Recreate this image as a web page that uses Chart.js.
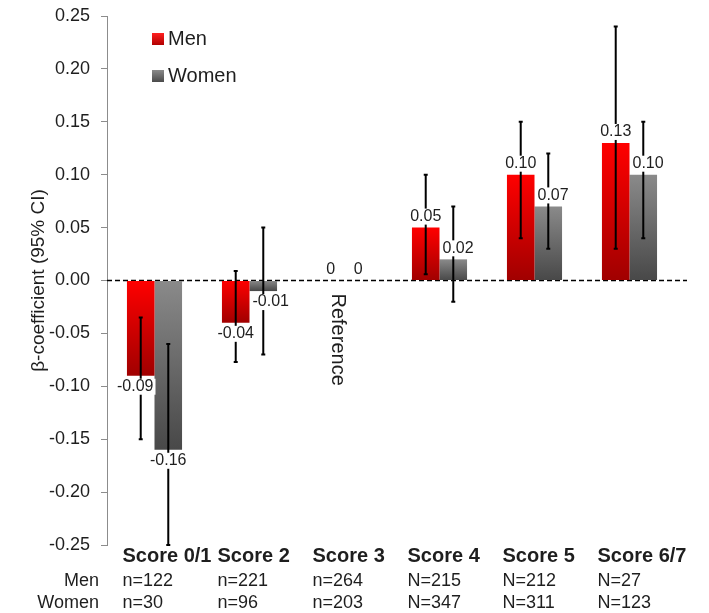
<!DOCTYPE html>
<html>
<head>
<meta charset="utf-8">
<script src="https://cdn.jsdelivr.net/npm/chart.js@4/dist/chart.umd.min.js"></script>
<style>
  html, body { margin: 0; padding: 0; background: #fff; }
  #wrap { width: 709px; height: 613px; }
</style>
</head>
<body>
<div id="wrap"><canvas id="betaChart"></canvas></div>
<script>
// data
const categories = ['Score 0/1', 'Score 2', 'Score 3', 'Score 4', 'Score 5', 'Score 6/7'];
const menBeta   = [-0.09, -0.04, 0, 0.05, 0.10, 0.13];
const womenBeta = [-0.16, -0.01, 0, 0.02, 0.07, 0.10];
const menLow    = [-0.15, -0.077, null, 0.006, 0.04, 0.03];
const menHigh   = [-0.035, 0.009, null, 0.10, 0.15, 0.24];
const womenLow  = [-0.25, -0.07, null, -0.02, 0.03, 0.04];
const womenHigh = [-0.06, 0.05, null, 0.07, 0.12, 0.15];
const menN   = ['n=122', 'n=221', 'n=264', 'N=215', 'N=212', 'N=27'];
const womenN = ['n=30', 'n=96', 'n=203', 'N=347', 'N=311', 'N=123'];
const rowNames = ['Men', 'Women'];
const yTicks = [-0.25, -0.20, -0.15, -0.10, -0.05, 0, 0.05, 0.10, 0.15, 0.20, 0.25];
const referenceIndex = 2;
const referenceText = 'Reference';

const FONT = '"Liberation Sans", Arial, sans-serif';
const INK = '#1e1e1e';
Chart.defaults.font.family = FONT;

function fmt(v) {
  return v === 0 ? '0' : v.toFixed(2);
}

function barFill(top, bottom) {
  return function (ctx) {
    const chart = ctx.chart;
    if (!chart.chartArea || ctx.raw == null) return top;
    const y = chart.scales.y;
    const y0 = y.getPixelForValue(0), y1 = y.getPixelForValue(ctx.raw);
    if (Math.abs(y1 - y0) < 1) return top;
    const g = chart.ctx.createLinearGradient(0, Math.min(y0, y1), 0, Math.max(y0, y1));
    g.addColorStop(0, top);
    g.addColorStop(1, bottom);
    return g;
  };
}

const extras = {
  id: 'extras',
  beforeDatasetsDraw(chart) {
    const {ctx, chartArea, scales: {y}} = chart;
    const y0 = y.getPixelForValue(0);
    ctx.save();
    ctx.strokeStyle = '#000';
    ctx.lineWidth = 1.5;
    ctx.setLineDash([5, 3]);
    ctx.beginPath();
    ctx.moveTo(chartArea.left, y0);
    ctx.lineTo(chartArea.right + 10, y0);
    ctx.stroke();
    ctx.restore();
  },
  afterDatasetsDraw(chart) {
    const {ctx, chartArea, scales: {x, y}} = chart;
    const lows = [menLow, womenLow];
    const highs = [menHigh, womenHigh];
    const y0 = y.getPixelForValue(0);

    // error bars
    ctx.save();
    ctx.strokeStyle = '#000';
    ctx.lineWidth = 2;
    chart.data.datasets.forEach((ds, i) => {
      const meta = chart.getDatasetMeta(i);
      meta.data.forEach((bar, j) => {
        if (lows[i][j] == null) return;
        const a = y.getPixelForValue(lows[i][j]);
        const b = y.getPixelForValue(highs[i][j]);
        ctx.beginPath();
        ctx.moveTo(bar.x, a); ctx.lineTo(bar.x, b);
        ctx.moveTo(bar.x - 2, a); ctx.lineTo(bar.x + 2, a);
        ctx.moveTo(bar.x - 2, b); ctx.lineTo(bar.x + 2, b);
        ctx.stroke();
      });
    });
    ctx.restore();

    // value labels with white backing
    ctx.save();
    ctx.font = '16px ' + FONT;
    ctx.textBaseline = 'middle';
    const metas = [chart.getDatasetMeta(0), chart.getDatasetMeta(1)];
    chart.data.datasets.forEach((ds, i) => {
      metas[i].data.forEach((bar, j) => {
        const v = ds.data[j];
        const txt = fmt(v);
        const w = ctx.measureText(txt).width;
        const half = bar.width / 2;
        const ly = v >= 0 ? y.getPixelForValue(v) - 11 : y.getPixelForValue(v) + 11;
        // does the neighbouring bar reach past this label?
        const other = chart.data.datasets[1 - i].data[j];
        const otherPx = y.getPixelForValue(other);
        const clash = other !== 0 && (v >= 0 ? otherPx < ly + 8 : otherPx > ly - 8) && Math.sign(other) === Math.sign(v || 1);
        let lx;
        if (clash && i === 0) lx = bar.x + half - 1 - w / 2;
        else if (clash && i === 1) lx = bar.x - half + 3 + w / 2;
        else lx = bar.x;
        ctx.fillStyle = '#fff';
        ctx.fillRect(lx - w / 2 - 2, ly - 8, w + 4, 16);
        ctx.fillStyle = INK;
        ctx.textAlign = 'center';
        ctx.fillText(txt, lx, ly);
      });
    });
    ctx.restore();

    // reference note
    ctx.save();
    ctx.font = '20px ' + FONT;
    ctx.fillStyle = INK;
    ctx.translate(x.getPixelForValue(referenceIndex) - 7, y0 + 13);
    ctx.rotate(Math.PI / 2);
    ctx.textAlign = 'left';
    ctx.textBaseline = 'middle';
    ctx.fillText(referenceText, 0, 0);
    ctx.restore();

    // legend
    ctx.save();
    ctx.font = '20px ' + FONT;
    ctx.textAlign = 'left';
    ctx.textBaseline = 'middle';
    const legendCols = [['#ff2020', '#b00000'], ['#8a8a8a', '#4a4a4a']];
    chart.data.datasets.forEach((ds, i) => {
      const bx = chartArea.left + 45;
      const by = chartArea.top + 23 + i * 37;
      const g = ctx.createLinearGradient(0, by - 6, 0, by + 6);
      g.addColorStop(0, legendCols[i][0]);
      g.addColorStop(1, legendCols[i][1]);
      ctx.fillStyle = g;
      ctx.fillRect(bx, by - 6, 12, 12);
      ctx.fillStyle = INK;
      ctx.fillText(ds.label, bx + 16, by);
    });
    ctx.restore();

    // category labels and group sizes
    ctx.save();
    ctx.fillStyle = INK;
    ctx.textBaseline = 'middle';
    const base = chartArea.bottom;
    categories.forEach((c, j) => {
      const cx = x.getPixelForValue(j) - 32;
      ctx.textAlign = 'left';
      ctx.font = 'bold 20px ' + FONT;
      ctx.fillText(c, cx, base + 11);
      ctx.font = '18px ' + FONT;
      ctx.fillText(menN[j], cx, base + 36);
      ctx.fillText(womenN[j], cx, base + 58);
    });
    ctx.textAlign = 'right';
    ctx.font = '18px ' + FONT;
    ctx.fillText(rowNames[0], chartArea.left - 8, base + 36);
    ctx.fillText(rowNames[1], chartArea.left - 8, base + 58);
    ctx.restore();
  }
};

new Chart(document.getElementById('betaChart'), {
  type: 'bar',
  data: {
    labels: categories,
    datasets: [
      { label: 'Men', data: menBeta, backgroundColor: barFill('#ff0000', '#a00000') },
      { label: 'Women', data: womenBeta, backgroundColor: barFill('#8a8a8a', '#484848') }
    ]
  },
  options: {
    responsive: true,
    maintainAspectRatio: false,
    animation: false,
    layout: { padding: { top: 16, right: 32, bottom: 68, left: 0 } },
    datasets: { bar: { categoryPercentage: 0.58, barPercentage: 1, borderWidth: 0 } },
    plugins: { legend: { display: false }, tooltip: { enabled: false } },
    scales: {
      x: { display: false },
      y: {
        min: -0.25,
        max: 0.25,
        afterBuildTicks(scale) { scale.ticks = yTicks.map(v => ({ value: v })); },
        afterFit(scale) {
          scale.width = 107;
          scale.paddingTop = 0;
          scale.paddingBottom = 0;
        },
        ticks: {
          color: INK,
          font: { size: 18 },
          padding: 11,
          callback: v => v.toFixed(2)
        },
        grid: { drawOnChartArea: false, tickLength: 6, color: '#8c8c8c' },
        border: { color: '#8c8c8c' },
        title: {
          display: true,
          text: 'β-coefficient (95% CI)',
          color: INK,
          font: { size: 19 },
          padding: { top: 27 }
        }
      }
    }
  },
  plugins: [extras]
});
</script>
</body>
</html>
